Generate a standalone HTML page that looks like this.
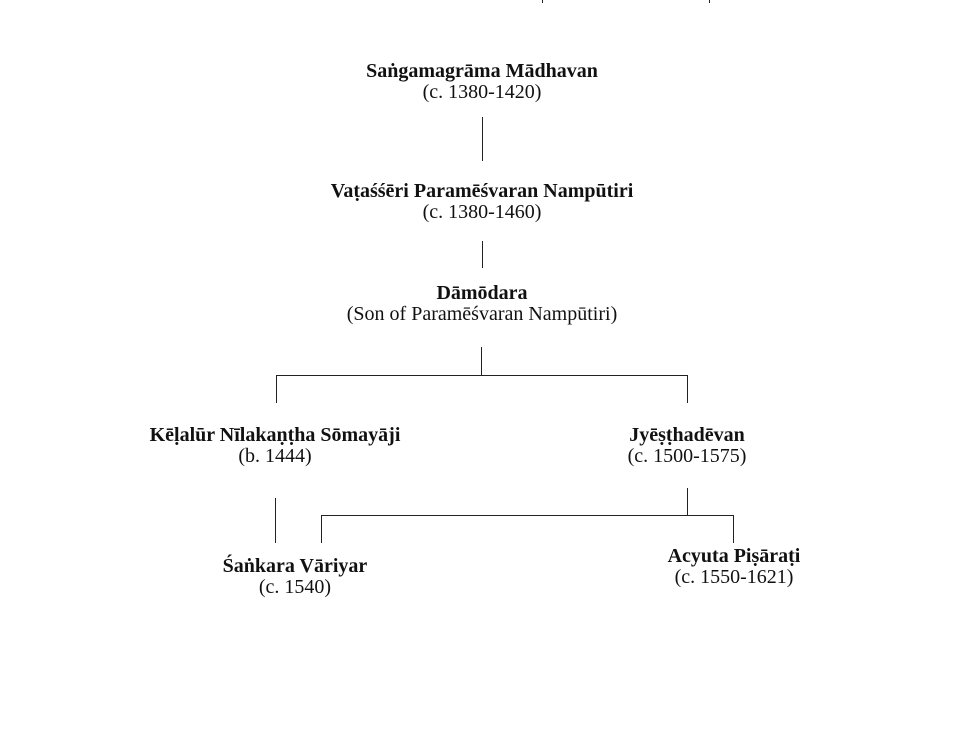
<!DOCTYPE html>
<html><head><meta charset="utf-8"><style>
body{margin:0;width:960px;height:730px;background:#fff;position:relative;overflow:hidden;font-family:"Liberation Serif",serif;color:#111}
.t{position:absolute;width:400px;text-align:center;font-size:20px;line-height:21px;white-space:nowrap}
.t b{display:block}
.v{position:absolute;width:1px;background:#222}
.h{position:absolute;height:1px;background:#222}
</style></head><body>
<div class="v" style="left:542px;top:0;height:3px"></div>
<div class="v" style="left:709px;top:0;height:3px"></div>

<div class="t" style="left:282px;top:61px"><b>Saṅgamagrāma Mādhavan</b>(c. 1380-1420)</div>
<div class="v" style="left:482px;top:117px;height:44px"></div>
<div class="t" style="left:282px;top:181px"><b>Vaṭaśśēri Paramēśvaran Nampūtiri</b>(c. 1380-1460)</div>
<div class="v" style="left:482px;top:241px;height:27px"></div>
<div class="t" style="left:282px;top:283px"><b>Dāmōdara</b>(Son of Paramēśvaran Nampūtiri)</div>
<div class="v" style="left:481px;top:347px;height:28px"></div>
<div class="h" style="left:276px;top:375px;width:412px"></div>
<div class="v" style="left:276px;top:375px;height:28px"></div>
<div class="v" style="left:687px;top:375px;height:28px"></div>

<div class="t" style="left:75px;top:425px"><b>Kēḷalūr Nīlakaṇṭha Sōmayāji</b>(b. 1444)</div>
<div class="t" style="left:487px;top:425px"><b>Jyēṣṭhadēvan</b>(c. 1500-1575)</div>

<div class="v" style="left:275px;top:498px;height:45px"></div>
<div class="v" style="left:687px;top:488px;height:27px"></div>
<div class="h" style="left:321px;top:515px;width:413px"></div>
<div class="v" style="left:321px;top:515px;height:28px"></div>
<div class="v" style="left:733px;top:515px;height:28px"></div>

<div class="t" style="left:95px;top:556px"><b>Śaṅkara Vāriyar</b>(c. 1540)</div>
<div class="t" style="left:534px;top:546px"><b>Acyuta Piṣāraṭi</b>(c. 1550-1621)</div>
</body></html>
